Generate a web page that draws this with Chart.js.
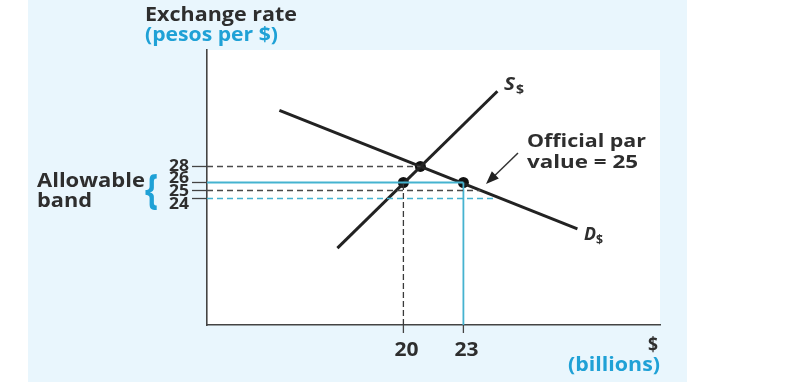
<!DOCTYPE html>
<html>
<head>
<meta charset="utf-8">
<script src="https://cdn.jsdelivr.net/npm/chart.js@4.4.1/dist/chart.umd.min.js"></script>
<style>
html,body{margin:0;padding:0;background:#fff;}
canvas{display:block;}
</style>
</head>
<body>
<canvas id="c" width="800" height="382"></canvas>
<script>
// ---- data ----
const yTicks = [28, 26, 25, 24];
const yTickLabels = ["28", "26", "25", "24"];
const xTicks = [20, 23];
const xTickLabels = ["20", "23"];
const supplyX = [16.7, 24.7];
const supplyY = [17.8, 37.4];
const demandX = [13.8, 28.7];
const demandY = [35.0, 20.2];
const equilibrium = [20.85, 28];
const bandPointsX = [20, 23];
const bandPointsY = [26, 26];
const xRange = [10.18, 32.83];
const yRange = [8.2, 42.55];

const DARK = '#222222';
const CYAN = '#45b3d0';
const BLUE_TEXT = '#1fa1d6';
const TEXT = '#2e2e2e';
const FONT = '"Open Sans"';

const seg = (x0, y0, x1, y1) => [{x: x0, y: y0}, {x: x1, y: y1}];
const lineDs = (data, color, width, dash) => ({
  data, showLine: true, borderColor: color, borderWidth: width,
  borderDash: dash || [], pointRadius: 0, fill: false
});

const datasets = [
  // guide lines
  lineDs(seg(xRange[0], 28, equilibrium[0], 28), '#4a4a4a', 1.3, [6, 4]),
  lineDs(seg(xRange[0], 26, 23, 26), CYAN, 1.8),
  lineDs(seg(xRange[0], 25, 23.85, 25), '#4a4a4a', 1.3, [6, 4]),
  lineDs(seg(xRange[0], 24, 24.6, 24), CYAN, 1.3, [6, 4]),
  lineDs(seg(20, yRange[0], 20, 26), '#3a3a3a', 1.3, [6, 3]),
  lineDs(seg(23, yRange[0], 23, 26), CYAN, 1.8),
  // supply & demand
  lineDs(supplyX.map((x, i) => ({x, y: supplyY[i]})), DARK, 3),
  lineDs(demandX.map((x, i) => ({x, y: demandY[i]})), DARK, 3),
  // points
  {
    data: [{x: equilibrium[0], y: equilibrium[1]}].concat(bandPointsX.map((x, i) => ({x, y: bandPointsY[i]}))),
    showLine: false, pointRadius: 5.5, pointBackgroundColor: '#111', pointBorderWidth: 0
  }
];

// draw text stretched to a target width
function txt(ctx, s, x, y, font, color, width, align) {
  ctx.save();
  ctx.font = font;
  ctx.fillStyle = color;
  ctx.textAlign = 'left';
  ctx.textBaseline = 'alphabetic';
  const w = ctx.measureText(s).width;
  const sx = width ? width / w : 1;
  const tw = w * sx;
  let x0 = x;
  if (align === 'right') x0 = x - tw;
  else if (align === 'center') x0 = x - tw / 2;
  ctx.translate(x0, y);
  ctx.scale(sx, 1);
  ctx.fillText(s, 0, 0);
  ctx.restore();
}

const decor = {
  id: 'decor',
  beforeDraw(chart) {
    const ctx = chart.ctx, a = chart.chartArea;
    ctx.save();
    ctx.fillStyle = '#ffffff';
    ctx.fillRect(0, 0, chart.width, chart.height);
    ctx.fillStyle = '#e9f6fd';
    ctx.fillRect(28, 0, 659, chart.height);
    ctx.fillStyle = '#ffffff';
    ctx.fillRect(a.left, a.top, a.right - a.left, a.bottom - a.top);
    ctx.restore();
  },
  afterDraw(chart) {
    const ctx = chart.ctx, a = chart.chartArea;
    const xs = chart.scales.x, ys = chart.scales.y;
    ctx.save();
    // y tick marks and labels
    ctx.strokeStyle = '#444';
    ctx.lineWidth = 1.3;
    const yLabelBase = [170.5, 183, 195.5, 209];
    yTicks.forEach((v, i) => {
      const py = ys.getPixelForValue(v);
      ctx.beginPath(); ctx.moveTo(a.left - 15, py); ctx.lineTo(a.left, py); ctx.stroke();
      txt(ctx, yTickLabels[i], 189, yLabelBase[i], '700 15.5px ' + FONT, TEXT, 20, 'right');
    });
    // x tick marks and labels
    xTicks.forEach((v, i) => {
      const px = xs.getPixelForValue(v);
      ctx.beginPath(); ctx.moveTo(px, a.bottom); ctx.lineTo(px, a.bottom + 8); ctx.stroke();
      txt(ctx, xTickLabels[i], px + 3, 356, '700 19px ' + FONT, TEXT, 24, 'center');
    });
    // axis titles
    txt(ctx, 'Exchange rate', 145, 21, '700 19.5px ' + FONT, TEXT, 152);
    txt(ctx, '(pesos per $)', 145, 41, '700 19.5px ' + FONT, BLUE_TEXT, 133);
    txt(ctx, '$', 658, 351, '700 19px ' + FONT, TEXT, 10, 'right');
    txt(ctx, '(billions)', 660, 371, '700 19.5px ' + FONT, BLUE_TEXT, 92, 'right');
    // allowable band
    txt(ctx, 'Allowable', 37, 187, '700 19.5px ' + FONT, TEXT, 108);
    txt(ctx, 'band', 37, 207, '700 19.5px ' + FONT, TEXT, 55);
    txt(ctx, '{', 145, 204, '700 42px ' + FONT, BLUE_TEXT, 13);
    // official par value
    txt(ctx, 'Official par', 527, 147, '700 18.5px ' + FONT, TEXT, 119);
    txt(ctx, 'value = 25', 527, 168, '700 18.5px ' + FONT, TEXT, 111);
    // arrow
    ctx.strokeStyle = '#333';
    ctx.lineWidth = 1.5;
    const tx = 518, ty = 153, hx = 486, hy = 184;
    const ang = Math.atan2(hy - ty, hx - tx);
    ctx.beginPath(); ctx.moveTo(tx, ty); ctx.lineTo(hx - 8 * Math.cos(ang), hy - 8 * Math.sin(ang)); ctx.stroke();
    ctx.fillStyle = '#222';
    ctx.beginPath();
    ctx.moveTo(hx, hy);
    ctx.lineTo(hx - 13 * Math.cos(ang) + 5 * Math.sin(ang), hy - 13 * Math.sin(ang) - 5 * Math.cos(ang));
    ctx.lineTo(hx - 13 * Math.cos(ang) - 5 * Math.sin(ang), hy - 13 * Math.sin(ang) + 5 * Math.cos(ang));
    ctx.closePath(); ctx.fill();
    // curve labels
    txt(ctx, 'S', 504, 90, 'italic 700 17px ' + FONT, TEXT, 11);
    txt(ctx, '$', 516, 94, '700 12px ' + FONT, TEXT, 8);
    txt(ctx, 'D', 584, 240, 'italic 700 17px ' + FONT, TEXT, 12);
    txt(ctx, '$', 596, 244, '700 12px ' + FONT, TEXT, 7);
    ctx.restore();
  }
};

new Chart(document.getElementById('c'), {
  type: 'scatter',
  data: {datasets},
  options: {
    responsive: false,
    animation: false,
    devicePixelRatio: 1,
    layout: {padding: {left: 207, top: 50, right: 140, bottom: 57}},
    plugins: {legend: {display: false}, tooltip: {enabled: false}},
    scales: {
      x: {type: 'linear', min: xRange[0], max: xRange[1],
          ticks: {display: false}, grid: {display: false, drawTicks: false},
          border: {display: true, color: '#444', width: 1.6}},
      y: {type: 'linear', min: yRange[0], max: yRange[1],
          ticks: {display: false}, grid: {display: false, drawTicks: false},
          border: {display: true, color: '#444', width: 1.6}}
    }
  },
  plugins: [decor]
});
</script>
</body>
</html>
